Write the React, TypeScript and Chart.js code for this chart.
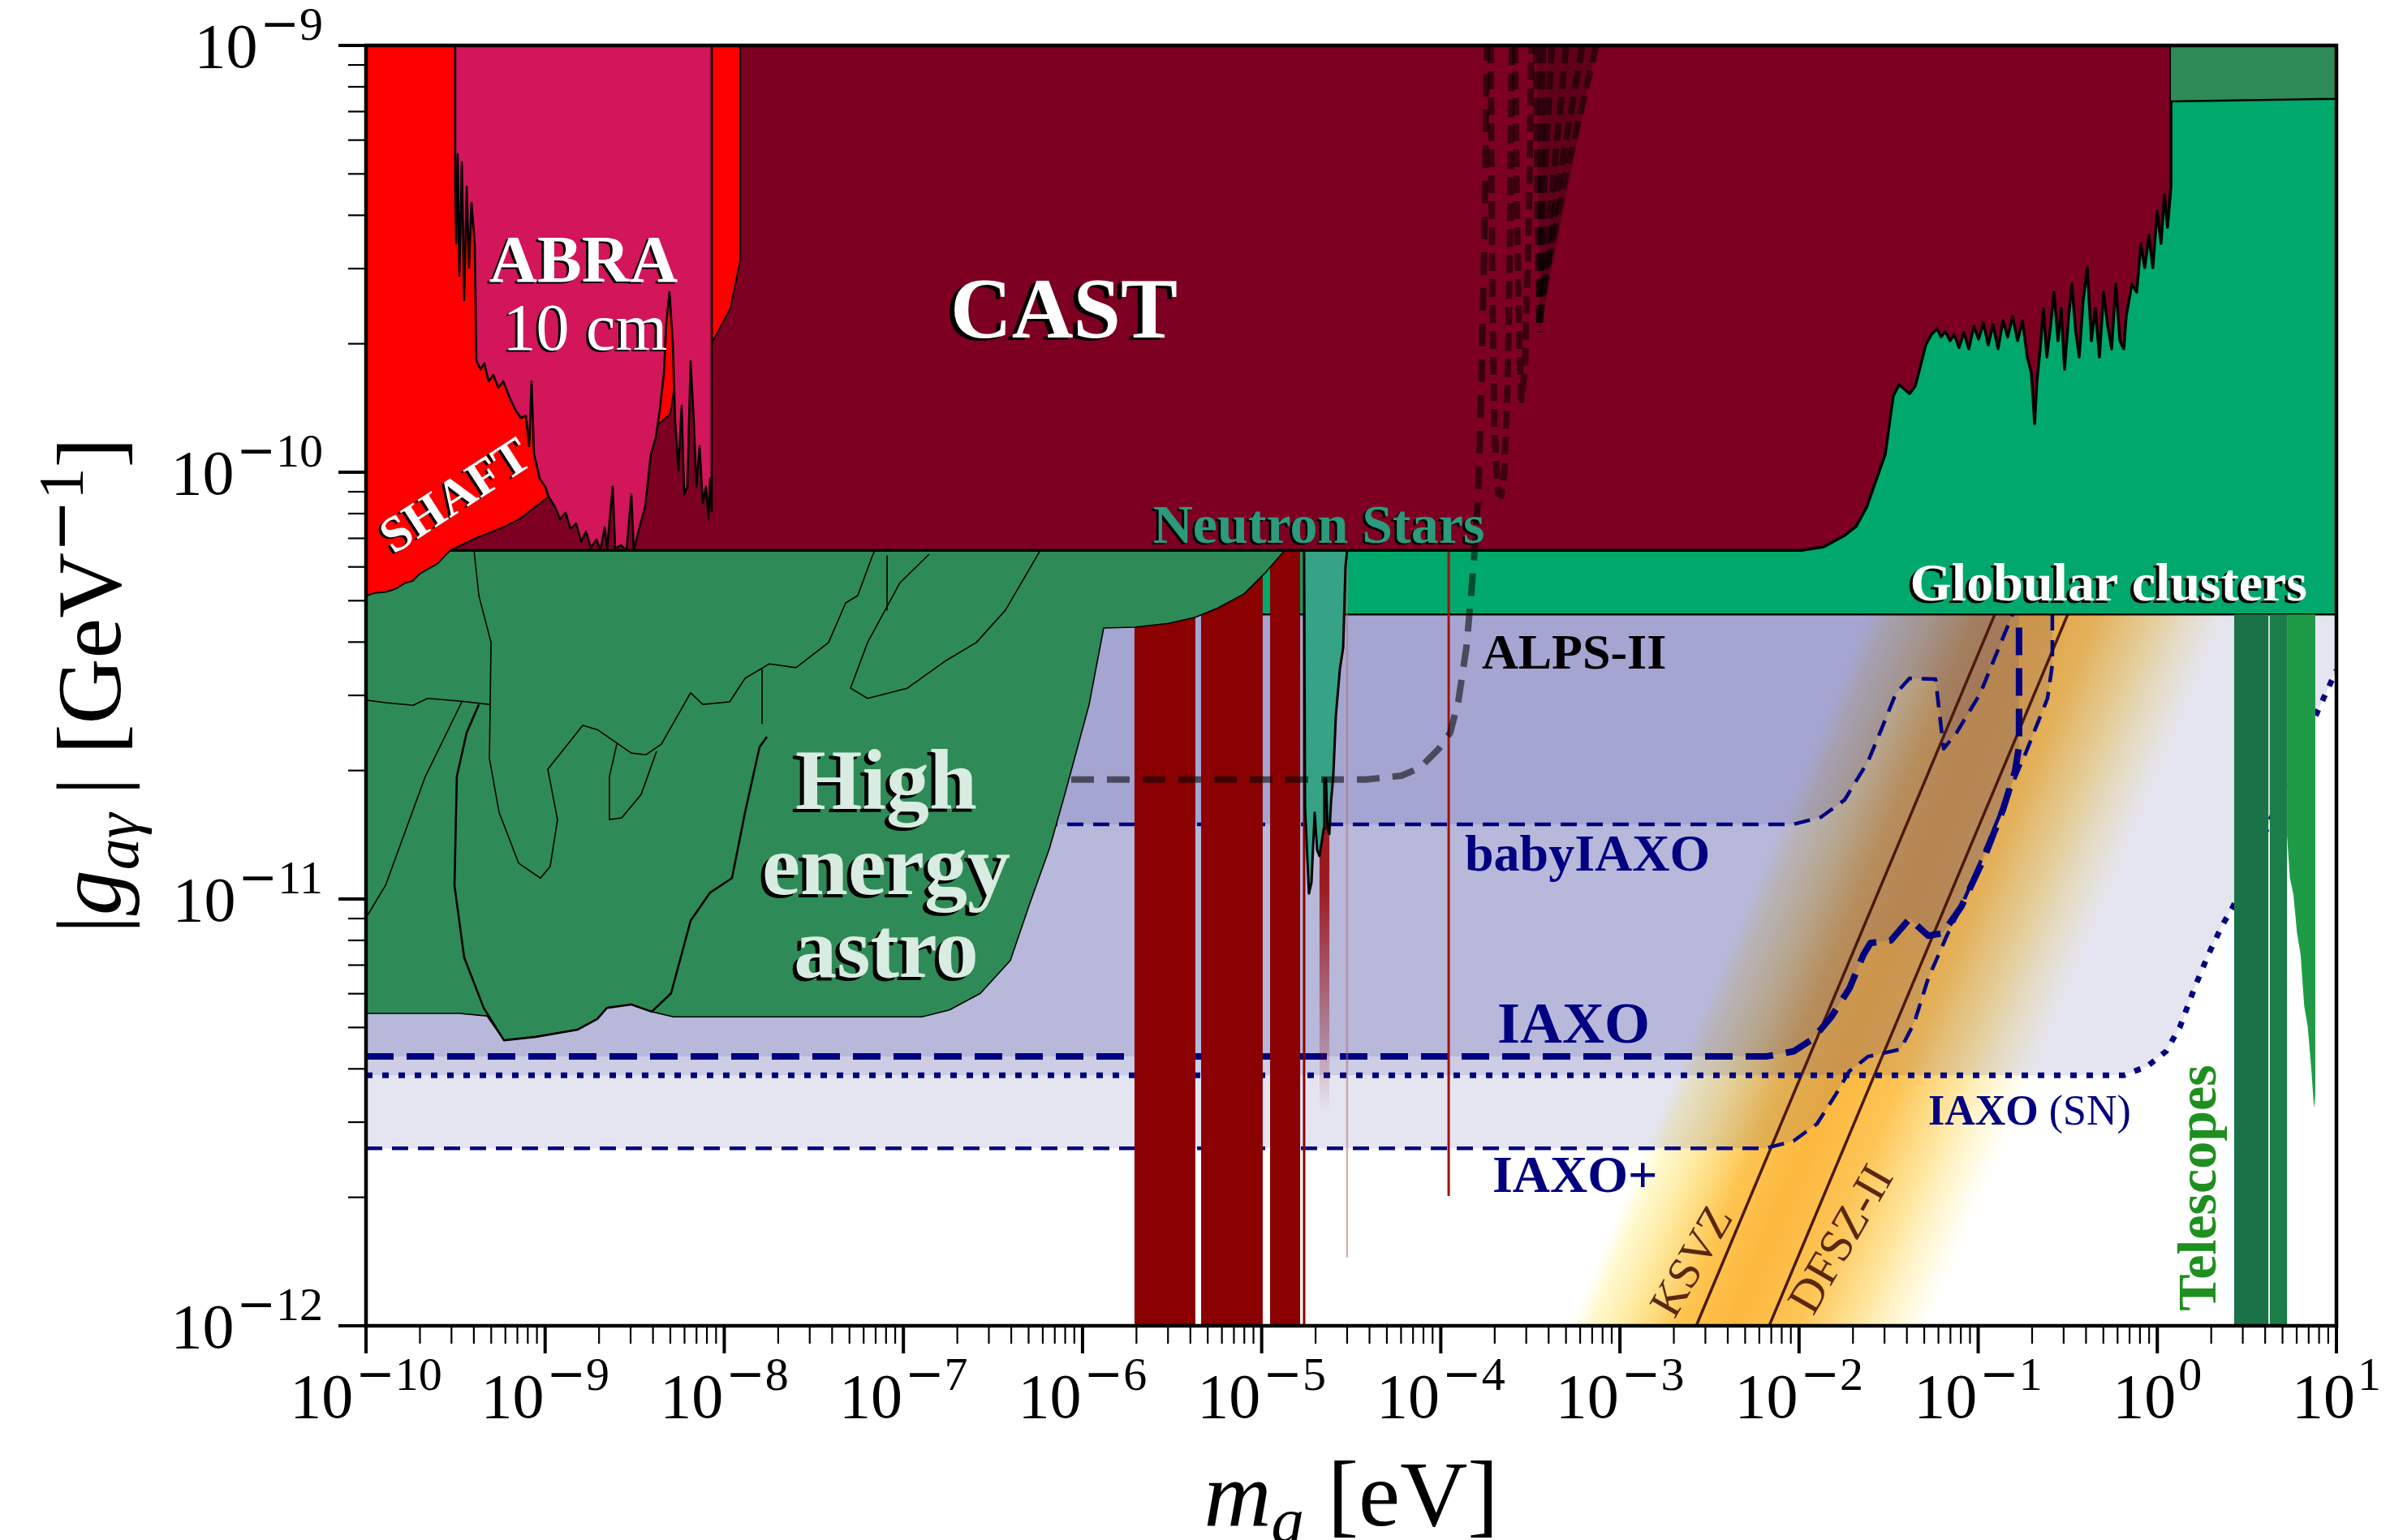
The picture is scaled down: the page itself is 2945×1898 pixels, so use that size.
import React, { useEffect, useRef } from 'react';
import { Chart, registerables } from 'chart.js';

Chart.register(...registerables);

const CANVAS_W = 2945;
const CANVAS_H = 1898;
const SERIF = "'Liberation Serif', 'Times New Roman', serif";
const MINUS_FONT = "'DejaVu Sans', sans-serif";

// axis limits
const X_MIN = 1e-10;
const X_MAX = 10;
const Y_MIN = 1e-12;
const Y_MAX = 1e-9;
const X_TICK_EXPONENTS = [-10, -9, -8, -7, -6, -5, -4, -3, -2, -1, 0, 1];
const Y_TICK_EXPONENTS = [-12, -11, -10, -9];

// ---- data: pairs of [log10(m_a / eV), log10(|g| / GeV^-1)] ----
const SHAFT = [[-10, -10.289], [-9.95, -10.283], [-9.9, -10.281], [-9.869, -10.278], [-9.83, -10.272], [-9.778, -10.259], [-9.74, -10.255], [-9.7, -10.238], [-9.642, -10.224], [-9.6, -10.214], [-9.56, -10.196], [-9.529, -10.183], [-9.384, -10.154], [-9.234, -10.129], [-9.144, -10.11], [-8.981, -10.057], [-8.781, -10.015], [-8.6, -9.958], [-8.419, -9.901], [-8.351, -9.882], [-8.301, -9.863], [-8.274, -9.787], [-8.238, -9.73], [-8.07, -9.698], [-7.966, -9.616], [-7.911, -9.504], [-7.911, -9], [-10, -9]];

const ABRA = [[-9.502, -9], [-9.502, -9.331], [-9.497, -9.464], [-9.488, -9.255], [-9.479, -9.54], [-9.465, -9.274], [-9.452, -9.597], [-9.438, -9.331], [-9.425, -9.521], [-9.411, -9.369], [-9.393, -9.464], [-9.384, -9.738], [-9.361, -9.759], [-9.339, -9.745], [-9.316, -9.787], [-9.289, -9.772], [-9.262, -9.802], [-9.234, -9.787], [-9.198, -9.825], [-9.166, -9.854], [-9.135, -9.873], [-9.108, -9.867], [-9.089, -9.939], [-9.076, -9.787], [-9.062, -9.958], [-9.03, -10.015], [-8.999, -10.034], [-8.981, -10.057], [-8.944, -10.082], [-8.917, -10.11], [-8.886, -10.095], [-8.858, -10.133], [-8.827, -10.12], [-8.799, -10.163], [-8.772, -10.139], [-8.745, -10.177], [-8.713, -10.158], [-8.691, -10.183], [-8.668, -10.129], [-8.654, -10.179], [-8.623, -10.034], [-8.609, -10.179], [-8.577, -10.171], [-8.546, -10.183], [-8.519, -10.053], [-8.505, -10.183], [-8.473, -10.129], [-8.442, -10.082], [-8.41, -9.958], [-8.383, -9.92], [-8.36, -9.854], [-8.337, -9.768], [-8.324, -9.654], [-8.306, -9.578], [-8.288, -9.692], [-8.274, -9.882], [-8.256, -9.996], [-8.238, -9.844], [-8.224, -10.053], [-8.206, -10.034], [-8.188, -9.74], [-8.17, -9.882], [-8.156, -10.034], [-8.138, -9.939], [-8.12, -10.072], [-8.102, -10.034], [-8.088, -10.11], [-8.079, -10.015], [-8.07, -10.091], [-8.07, -9]];

const CAST = [[-10, -10.183], [-1.986, -10.183], [-1.863, -10.175], [-1.746, -10.148], [-1.682, -10.127], [-1.623, -10.082], [-1.519, -9.958], [-1.474, -9.821], [-1.442, -9.795], [-1.41, -9.806], [-1.383, -9.816], [-1.351, -9.798], [-1.293, -9.702], [-1.261, -9.677], [-1.229, -9.664], [-1.207, -9.683], [-1.184, -9.67], [-1.157, -9.692], [-1.134, -9.677], [-1.107, -9.708], [-1.08, -9.673], [-1.052, -9.711], [-1.025, -9.658], [-0.998, -9.688], [-0.971, -9.65], [-0.944, -9.702], [-0.917, -9.654], [-0.889, -9.711], [-0.862, -9.645], [-0.835, -9.683], [-0.808, -9.635], [-0.78, -9.692], [-0.753, -9.645], [-0.726, -9.73], [-0.703, -9.768], [-0.685, -9.886], [-0.672, -9.787], [-0.654, -9.711], [-0.636, -9.616], [-0.617, -9.73], [-0.595, -9.654], [-0.577, -9.578], [-0.554, -9.692], [-0.536, -9.616], [-0.518, -9.759], [-0.495, -9.635], [-0.477, -9.559], [-0.455, -9.673], [-0.436, -9.73], [-0.414, -9.597], [-0.391, -9.521], [-0.368, -9.692], [-0.346, -9.616], [-0.323, -9.73], [-0.3, -9.578], [-0.278, -9.654], [-0.255, -9.711], [-0.232, -9.559], [-0.209, -9.692], [-0.187, -9.711], [-0.174, -9.635], [-0.142, -9.559], [-0.115, -9.578], [-0.092, -9.464], [-0.07, -9.521], [-0.047, -9.445], [-0.025, -9.521], [-0.001, -9.388], [0.021, -9.464], [0.039, -9.35], [0.057, -9.426], [0.076, -9.331], [0.076, -9], [-10, -9]];

const GLOBULAR = [[-10, -10.333], [1, -10.333], [1, -9], [-10, -9]];
const TOP_RIGHT = [[0.076, -9.131], [1, -9.125], [1, -9], [0.076, -9]];

const HALOSCOPE_BARS = [[-5.71, -5.37], [-5.338, -4.994], [-4.953, -4.785]];
const HALO_LINE_A = [[-4.763, -12], [-4.763, -10.18]];
const HALO_SPIKE = [[-4.677, -11.5], [-4.677, -10.18], [-4.622, -10.18], [-4.622, -11.5]];
const HALO_LINE_B = [[-4.523, -11.84], [-4.523, -10.18]];
const HALO_LINE_C = [[-3.956, -11.696], [-3.956, -10.183]];

const NEUTRON_STARS = [[-4.763, -10.184], [-4.758, -10.785], [-4.736, -10.987], [-4.722, -10.962], [-4.704, -10.798], [-4.69, -10.886], [-4.677, -10.899], [-4.654, -10.836], [-4.65, -10.717], [-4.641, -10.717], [-4.632, -10.836], [-4.622, -10.848], [-4.613, -10.774], [-4.6, -10.711], [-4.586, -10.572], [-4.563, -10.46], [-4.545, -10.411], [-4.532, -10.222], [-4.523, -10.184], [-4.523, -10.0], [-4.763, -10.0]];

const ASTRO = [[-10, -10.183], [-4.871, -10.183], [-4.976, -10.234], [-5.098, -10.285], [-5.248, -10.319], [-5.37, -10.34], [-5.519, -10.354], [-5.71, -10.363], [-5.882, -10.365], [-5.963, -10.544], [-6.045, -10.671], [-6.099, -10.755], [-6.185, -10.882], [-6.294, -11.01], [-6.403, -11.144], [-6.57, -11.221], [-6.743, -11.26], [-6.897, -11.276], [-8.283, -11.276], [-8.405, -11.264], [-8.519, -11.247], [-8.655, -11.255], [-8.709, -11.281], [-8.818, -11.306], [-9.053, -11.323], [-9.23, -11.331], [-9.325, -11.274], [-9.479, -11.268], [-10, -11.268]];

const ASTRO_EDGES = [
  [[-10, -10.534], [-9.891, -10.54], [-9.737, -10.546], [-9.656, -10.53], [-9.479, -10.536], [-9.311, -10.544]],
  [[-9.397, -10.183], [-9.37, -10.289], [-9.302, -10.399], [-9.311, -10.671], [-9.257, -10.797], [-9.148, -10.916], [-9.026, -10.951], [-8.972, -10.924], [-8.931, -10.814], [-8.985, -10.696], [-8.79, -10.593], [-8.709, -10.603], [-8.519, -10.658], [-8.437, -10.662], [-8.351, -10.637], [-8.188, -10.517], [-8.12, -10.544], [-7.97, -10.538], [-7.884, -10.483], [-7.748, -10.449], [-7.599, -10.458], [-7.418, -10.399], [-7.322, -10.306], [-7.255, -10.289], [-7.173, -10.196], [-7.159, -10.183]],
  [[-10, -11.044], [-9.891, -10.968], [-9.669, -10.713], [-9.465, -10.538]],
  [[-6.856, -10.192], [-7.019, -10.259], [-7.2, -10.399], [-7.295, -10.506], [-7.2, -10.53], [-6.978, -10.506], [-6.761, -10.441], [-6.593, -10.399], [-6.43, -10.323], [-6.24, -10.186]],
  [[-8.6, -10.637], [-8.641, -10.713], [-8.641, -10.814], [-8.573, -10.81], [-8.464, -10.755], [-8.378, -10.654]],
  [[-7.789, -10.462], [-7.789, -10.589]],
  [[-7.091, -10.196], [-7.091, -10.323]],
];
const ASTRO_LOBE = [[-9.37, -10.544], [-9.438, -10.61], [-9.493, -10.713], [-9.506, -10.968], [-9.452, -11.137], [-9.343, -11.255], [-9.23, -11.331], [-9.053, -11.323], [-8.818, -11.306], [-8.709, -11.281], [-8.655, -11.255], [-8.519, -11.247], [-8.405, -11.264], [-8.297, -11.221], [-8.188, -11.051], [-8.079, -10.985], [-7.957, -10.951], [-7.884, -10.797], [-7.803, -10.644], [-7.762, -10.62]];

const TEL_1 = [[0.429, -12], [0.429, -10.333], [0.62, -10.333], [0.62, -12]];
const TEL_2 = [[0.628, -12], [0.628, -10.333], [0.724, -10.333], [0.724, -12]];
const TEL_3 = [[0.724, -10.333], [0.724, -10.85], [0.74, -10.95], [0.76, -10.99], [0.78, -11.08], [0.8, -11.13], [0.82, -11.25], [0.84, -11.3], [0.86, -11.4], [0.875, -11.49], [0.882, -11.46], [0.882, -10.333]];

const BABY_IAXO = [[-10, -10.825], [-2.031, -10.825], [-1.877, -10.808], [-1.746, -10.768], [-1.614, -10.677], [-1.537, -10.599], [-1.46, -10.519], [-1.383, -10.483], [-1.238, -10.485], [-1.193, -10.648], [-1.12, -10.61], [-0.989, -10.519], [-0.889, -10.416], [-0.808, -10.333], [-0.74, -10.224], [-0.7, -9]];
const IAXO = [[-10, -11.369], [-2.185, -11.369], [-2.031, -11.357], [-1.927, -11.329], [-1.823, -11.278], [-1.718, -11.209], [-1.641, -11.131], [-1.601, -11.103], [-1.487, -11.097], [-1.383, -11.046], [-1.279, -11.086], [-1.197, -11.08], [-1.093, -11.017], [-0.966, -10.903], [-0.862, -10.791], [-0.794, -10.7], [-0.772, -10.643], [-0.772, -9]];
const IAXO_PLUS = [[-10, -11.584], [-2.185, -11.584], [-2.031, -11.567], [-1.9, -11.527], [-1.795, -11.458], [-1.718, -11.403], [-1.614, -11.369], [-1.433, -11.352], [-1.356, -11.289], [-1.279, -11.186], [-1.175, -11.086], [-1.093, -11.017], [-0.989, -10.914], [-0.835, -10.757], [-0.731, -10.654], [-0.613, -10.53], [-0.586, -10.451], [-0.586, -9]];
const IAXO_SN = [[-10, -11.413], [-0.187, -11.413], [-0.056, -11.392], [0.049, -11.357], [0.126, -11.3], [0.207, -11.209], [0.284, -11.131], [0.361, -11.063], [0.424, -11.017], [0.896, -10.559], [1, -10.464]];

const ALPS_II = [[-6.063, -10.72], [-4.418, -10.72], [-4.219, -10.711], [-4.115, -10.692], [-4.011, -10.648], [-3.947, -10.61], [-3.902, -10.536], [-3.857, -10.411], [-3.83, -10.285], [-3.807, -10.16], [-3.789, -10.034], [-3.775, -9.818], [-3.757, -9.464], [-3.742, -9.0]];
const HALO_DASHED = [
  [[-3.721, -9], [-3.712, -9.6], [-3.7, -9.9], [-3.68, -10.05], [-3.662, -10.055], [-3.645, -10.0], [-3.628, -9.8], [-3.615, -9.5], [-3.603, -9]],
  [[-3.585, -9], [-3.575, -9.4], [-3.562, -9.7], [-3.549, -9.831], [-3.53, -9.75], [-3.51, -9.45], [-3.494, -9]],
  [[-3.467, -9], [-3.46, -9.4], [-3.449, -9.673]],
  [[-3.3, -9], [-3.38, -9.35], [-3.445, -9.65]],
  [[-3.132, -9], [-3.3, -9.3], [-3.42, -9.55]],
  [[-3.38, -9], [-3.42, -9.3], [-3.448, -9.6]],
  [[-3.21, -9], [-3.34, -9.32], [-3.43, -9.6]],
  [[-3.43, -9], [-3.44, -9.35], [-3.449, -9.66]],
];
const HALO_WEDGE = [[-3.467, -9], [-3.449, -9.673], [-3.132, -9]];

const KSVZ = [[-2.6, -12.026], [-0.6, -10.026]];
const DFSZ_II = [[-2.2, -12.033], [-0.2, -10.033]];
const QCD_BAND = [[-3.281, -12], [-0.281, -9], [1, -9], [1, -9.739], [-1.261, -12]];
const QCD_BAND_STOPS = [
  [0.0, 'rgba(255,250,205,0)'],
  [0.05, 'rgba(255,247,190,0.7)'],
  [0.17, 'rgba(254,228,140,0.9)'],
  [0.3, 'rgba(253,196,80,1)'],
  [0.45, 'rgba(252,184,62,1)'],
  [0.63, 'rgba(253,196,85,1)'],
  [0.8, 'rgba(254,228,150,0.9)'],
  [0.92, 'rgba(255,245,200,0.6)'],
  [1.0, 'rgba(255,250,220,0)'],
];

// text labels anchored in data coordinates
const LABELS = [
  { text: 'ABRA', lm: -8.786, lg: -9.553, font: `bold 82px ${SERIF}`, color: '#ffffff', align: 'center', shadow: [-3, 2] },
  { text: '10 cm', lm: -8.777, lg: -9.713, font: `82px ${SERIF}`, color: '#ffffff', align: 'center', shadow: [-3, 2] },
  { text: 'SHAFT', lm: -9.493, lg: -10.061, font: `bold 62px ${SERIF}`, color: '#ffffff', align: 'center', baseline: 'middle', rot: -33, shadow: [-3, 2] },
  { text: 'CAST', lm: -6.104, lg: -9.684, font: `bold 105px ${SERIF}`, color: '#ffffff', align: 'center', shadow: [-6, 3] },
  { text: 'Neutron Stars', lm: -4.681, lg: -10.165, font: `bold 68px ${SERIF}`, color: '#2b9b7c', align: 'center', shadow: [-3, 2] },
  { text: 'Globular clusters', lm: 0.837, lg: -10.3, font: `bold 66px ${SERIF}`, color: '#ffffff', align: 'right', shadow: [-4, 3] },
  { text: 'ALPS-II', lm: -3.771, lg: -10.46, font: `bold 62px ${SERIF}`, color: '#000000', align: 'left' },
  { text: 'babyIAXO', lm: -3.866, lg: -10.933, font: `bold 64px ${SERIF}`, color: '#000080', align: 'left' },
  { text: 'IAXO', lm: -3.685, lg: -11.337, font: `bold 72px ${SERIF}`, color: '#000080', align: 'left' },
  { text: 'IAXO+', lm: -3.712, lg: -11.686, font: `bold 64px ${SERIF}`, color: '#000080', align: 'left' },
  { text: 'High', lm: -7.096, lg: -10.789, font: `bold 106px ${SERIF}`, color: '#d8ece1', align: 'center', shadow: [-5, 4] },
  { text: 'energy', lm: -7.096, lg: -10.989, font: `bold 106px ${SERIF}`, color: '#d8ece1', align: 'center', shadow: [-5, 4] },
  { text: 'astro', lm: -7.096, lg: -11.183, font: `bold 106px ${SERIF}`, color: '#d8ece1', align: 'center', shadow: [-5, 4] },
  { text: 'KSVZ', lm: -2.588, lg: -11.852, font: `56px ${SERIF}`, color: '#5a2810', align: 'center', baseline: 'middle', rot: -60 },
  { text: 'DFSZ-II', lm: -1.755, lg: -11.8, font: `58px ${SERIF}`, color: '#5a2810', align: 'center', baseline: 'middle', rot: -60 },
  { text: 'Telescopes', lm: 0.325, lg: -11.677, font: `bold 68px ${SERIF}`, color: '#1f8f1f', align: 'center', rot: -90 },
];
const SN_LABEL = { lm: -1.279, lg: -11.529, size: 52, color: '#000080' };

// ---- helpers ----
const toPts = (arr: number[][]) => arr.map(([lm, lg]) => ({ x: Math.pow(10, lm), y: Math.pow(10, lg) }));

function area(arr: number[][], fill: any, border = 'rgba(0,0,0,0)', bw = 0, extra: any = {}) {
  return {
    data: toPts(arr), showLine: true, fill: 'shape', backgroundColor: fill,
    borderColor: border, borderWidth: bw, pointRadius: 0, pointHoverRadius: 0,
    clip: 0, borderJoinStyle: 'round', ...extra,
  };
}
function curve(arr: number[][], color: string, bw: number, dash: number[] = [], extra: any = {}) {
  return {
    data: toPts(arr), showLine: true, fill: false, backgroundColor: 'rgba(0,0,0,0)',
    borderColor: color, borderWidth: bw, borderDash: dash, pointRadius: 0, pointHoverRadius: 0,
    clip: 0, borderJoinStyle: 'round', ...extra,
  };
}
const rectOf = (m0: number, m1: number, g0: number, g1: number) => [[m0, g0], [m0, g1], [m1, g1], [m1, g0]];
const closeTop = (arr: number[][]) => [...arr, [arr[arr.length - 1][0], -9], [-10, -9]];

const bandGradient = (c: any) => {
  const chart = c.chart;
  const xs = chart.scales && chart.scales.x;
  const ys = chart.scales && chart.scales.y;
  if (!xs || !ys || !chart.chartArea) return 'rgba(253,190,70,0.8)';
  const P = (p: number[]) => [xs.getPixelForValue(Math.pow(10, p[0])), ys.getPixelForValue(Math.pow(10, p[1]))];
  const [ax, ay] = P(QCD_BAND[0]);
  const [bx, by] = P(QCD_BAND[1]);
  const [cx, cy] = P(QCD_BAND[4]);
  let dx = bx - ax, dy = by - ay;
  const L = Math.hypot(dx, dy); dx /= L; dy /= L;
  const nx = -dy, ny = dx;
  const w = (cx - ax) * nx + (cy - ay) * ny;
  const g = chart.ctx.createLinearGradient(ax, ay, ax + nx * w, ay + ny * w);
  QCD_BAND_STOPS.forEach(([o, col]: any) => g.addColorStop(o, col));
  return g;
};

const spikeGradient = (c: any) => {
  const chart = c.chart;
  const ys = chart.scales && chart.scales.y;
  if (!ys || !chart.chartArea) return 'rgba(150,0,0,0.8)';
  const top = ys.getPixelForValue(Math.pow(10, HALO_SPIKE[1][1]));
  const bot = ys.getPixelForValue(Math.pow(10, HALO_SPIKE[0][1]));
  const g = chart.ctx.createLinearGradient(0, top, 0, bot);
  g.addColorStop(0, 'rgba(150,0,0,0.95)');
  g.addColorStop(0.6, 'rgba(150,0,0,0.85)');
  g.addColorStop(1, 'rgba(150,0,0,0)');
  return g;
};

function buildDatasets() {
  const NAVY_FILL = 'rgba(0,0,128,0.1)';
  const layers: any[] = [
    area(QCD_BAND, bandGradient),
    area(closeTop(IAXO_PLUS), NAVY_FILL),
    area([...IAXO_SN, [1, -9], [-10, -9]], NAVY_FILL),
    area(closeTop(IAXO), NAVY_FILL),
    area(closeTop(BABY_IAXO), NAVY_FILL),
    curve(KSVZ, '#4a1a10', 3.5),
    curve(DFSZ_II, '#4a1a10', 3.5),
    curve(IAXO_PLUS, '#000080', 4.5, [20, 12]),
    curve(IAXO_SN, '#000080', 7, [8, 12], { borderJoinStyle: 'miter' }),
    curve(IAXO, '#000080', 8, [34, 16]),
    curve(BABY_IAXO, '#000080', 4.5, [20, 12]),
    area(GLOBULAR, '#00a86b', '#000000', 2.5),
    area(TEL_1, '#1a7348'),
    area(TEL_2, '#1a7d4a'),
    area(TEL_3, '#1f9b47'),
    ...HALOSCOPE_BARS.map(([a, b]) => area(rectOf(a, b, -12.05, -9), '#8b0000')),
    curve(HALO_LINE_A, '#8b0000', 3),
    area(HALO_SPIKE, spikeGradient),
    curve(HALO_LINE_B, 'rgba(190,110,110,0.55)', 2.5),
    curve(HALO_LINE_C, '#a01010', 3),
    area(NEUTRON_STARS, '#36a386', '#000000', 3),
    area(ASTRO, '#2e8b57', '#000000', 1.6),
    ...ASTRO_EDGES.map((e) => curve(e, '#000000', 1.6)),
    curve(ASTRO_LOBE, '#000000', 2.6),
    area(CAST, '#7d0022', '#000000', 3.5),
    area(TOP_RIGHT, '#2e8b57', '#000000', 2.5),
    curve(ALPS_II, 'rgba(0,0,0,0.55)', 8, [28, 16]),
    area(HALO_WEDGE, 'rgba(0,0,0,0.22)'),
    ...HALO_DASHED.map((e) => curve(e, 'rgba(0,0,0,0.5)', 8, [22, 10])),
    area(SHAFT, '#ff0000', '#000000', 2),
    area(ABRA, '#d3155a', '#000000', 2.6),
  ];
  const n = layers.length;
  return layers.map((d, i) => ({ ...d, order: n - i }));
}

// ---- plugins ----
const bgPlugin = {
  id: 'whiteBackground',
  beforeDraw(chart: any) {
    const ctx = chart.ctx;
    ctx.save();
    ctx.fillStyle = '#ffffff';
    ctx.fillRect(0, 0, chart.width, chart.height);
    ctx.restore();
  },
};

const labelPlugin = {
  id: 'regionLabels',
  afterDatasetsDraw(chart: any) {
    const { ctx } = chart;
    const xs = chart.scales.x, ys = chart.scales.y;
    for (const L of LABELS as any[]) {
      const px = xs.getPixelForValue(Math.pow(10, L.lm));
      const py = ys.getPixelForValue(Math.pow(10, L.lg));
      ctx.save();
      ctx.translate(px, py);
      if (L.rot) ctx.rotate((L.rot * Math.PI) / 180);
      ctx.font = L.font;
      ctx.textAlign = L.align || 'left';
      ctx.textBaseline = L.baseline || 'alphabetic';
      if (L.shadow) {
        ctx.shadowColor = '#000000';
        ctx.shadowOffsetX = L.shadow[0];
        ctx.shadowOffsetY = L.shadow[1];
        ctx.shadowBlur = 0;
      }
      ctx.fillStyle = L.color;
      ctx.fillText(L.text, 0, 0);
      ctx.restore();
    }
    // IAXO (SN)
    const sx = xs.getPixelForValue(Math.pow(10, SN_LABEL.lm));
    const sy = ys.getPixelForValue(Math.pow(10, SN_LABEL.lg));
    ctx.save();
    ctx.fillStyle = SN_LABEL.color;
    ctx.textAlign = 'left';
    ctx.textBaseline = 'alphabetic';
    ctx.font = `bold ${SN_LABEL.size}px ${SERIF}`;
    ctx.fillText('IAXO', sx, sy);
    const w1 = ctx.measureText('IAXO ').width;
    ctx.font = `${SN_LABEL.size}px ${SERIF}`;
    ctx.fillText('(SN)', sx + w1, sy);
    ctx.restore();
  },
};

const TICK_FONT = 78;
const EXP_FONT = 58;
const EXP_RAISE = 34;

function drawPow(ctx: any, e: number, x: number, y: number, align: string) {
  const base = '10';
  const digits = String(Math.abs(e));
  const neg = e < 0;
  ctx.font = `${TICK_FONT}px ${SERIF}`;
  const wb = ctx.measureText(base).width;
  ctx.font = `${EXP_FONT}px ${MINUS_FONT}`;
  const wm = neg ? ctx.measureText('\u2212').width : 0;
  ctx.font = `${EXP_FONT}px ${SERIF}`;
  const wd = ctx.measureText(digits).width;
  const gap = 3;
  const total = wb + gap + wm + wd;
  let sx = align === 'center' ? x - total / 2 : x - total;
  ctx.textAlign = 'left';
  ctx.textBaseline = 'alphabetic';
  ctx.font = `${TICK_FONT}px ${SERIF}`;
  ctx.fillText(base, sx, y);
  sx += wb + gap;
  if (neg) {
    ctx.font = `${EXP_FONT}px ${MINUS_FONT}`;
    ctx.fillText('\u2212', sx, y - EXP_RAISE);
    sx += wm;
  }
  ctx.font = `${EXP_FONT}px ${SERIF}`;
  ctx.fillText(digits, sx, y - EXP_RAISE);
}

function drawRich(ctx: any, segs: any[], x: number, y: number, rot: number) {
  ctx.save();
  ctx.translate(x, y);
  ctx.rotate(rot);
  let total = 0;
  for (const s of segs) { ctx.font = s.f; total += ctx.measureText(s.t).width; }
  let cx = -total / 2;
  ctx.textAlign = 'left';
  ctx.textBaseline = 'alphabetic';
  ctx.fillStyle = '#000';
  for (const s of segs) {
    ctx.font = s.f;
    ctx.fillText(s.t, cx, s.dy || 0);
    cx += ctx.measureText(s.t).width;
  }
  ctx.restore();
}

const axesPlugin = {
  id: 'axesFrame',
  afterDraw(chart: any) {
    const { ctx, chartArea: a } = chart;
    const xs = chart.scales.x, ys = chart.scales.y;
    ctx.save();
    ctx.strokeStyle = '#000';
    ctx.lineCap = 'butt';
    const xe0 = X_TICK_EXPONENTS[0], xe1 = X_TICK_EXPONENTS[X_TICK_EXPONENTS.length - 1];
    for (let e = xe0; e <= xe1; e++) {
      for (let k = 1; k <= 9; k++) {
        const v = k * Math.pow(10, e);
        if (v > X_MAX * 1.0001) break;
        const p = xs.getPixelForValue(v);
        const major = k === 1;
        ctx.lineWidth = major ? 4 : 2.2;
        ctx.beginPath();
        ctx.moveTo(p, a.bottom);
        ctx.lineTo(p, a.bottom + (major ? 34 : 22));
        ctx.stroke();
      }
    }
    const ye0 = Y_TICK_EXPONENTS[0], ye1 = Y_TICK_EXPONENTS[Y_TICK_EXPONENTS.length - 1];
    for (let e = ye0; e <= ye1; e++) {
      for (let k = 1; k <= 9; k++) {
        const v = k * Math.pow(10, e);
        if (v > Y_MAX * 1.0001) break;
        const p = ys.getPixelForValue(v);
        const major = k === 1;
        ctx.lineWidth = major ? 4 : 2.2;
        ctx.beginPath();
        ctx.moveTo(a.left, p);
        ctx.lineTo(a.left - (major ? 34 : 22), p);
        ctx.stroke();
      }
    }
    ctx.lineWidth = 4.5;
    ctx.strokeRect(a.left, a.top, a.right - a.left, a.bottom - a.top);

    ctx.fillStyle = '#000';
    for (const e of X_TICK_EXPONENTS) {
      drawPow(ctx, e, xs.getPixelForValue(Math.pow(10, e)), a.bottom + 113, 'center');
    }
    for (const e of Y_TICK_EXPONENTS) {
      drawPow(ctx, e, a.left - 53, ys.getPixelForValue(Math.pow(10, e)) + 27, 'right');
    }

    const S = 112;
    drawRich(ctx, [
      { t: '|', f: `${S}px ${SERIF}` },
      { t: 'g', f: `italic ${S}px ${SERIF}` },
      { t: 'a\u03b3', f: `italic ${Math.round(S * 0.7)}px ${SERIF}`, dy: S * 0.2 },
      { t: '\u2009|', f: `${S}px ${SERIF}` },
      { t: ' [GeV', f: `${S}px ${SERIF}` },
      { t: '\u2212', f: `${Math.round(S * 0.7)}px ${MINUS_FONT}`, dy: -S * 0.42 },
      { t: '1', f: `${Math.round(S * 0.7)}px ${SERIF}`, dy: -S * 0.42 },
      { t: ']', f: `${S}px ${SERIF}` },
    ], 148, (a.top + a.bottom) / 2, -Math.PI / 2);

    const SX = 115;
    drawRich(ctx, [
      { t: 'm', f: `italic ${SX}px ${SERIF}` },
      { t: 'a', f: `italic ${Math.round(SX * 0.7)}px ${SERIF}`, dy: SX * 0.18 },
      { t: ' [eV]', f: `${SX}px ${SERIF}` },
    ], (a.left + a.right) / 2, 1880, 0);
    ctx.restore();
  },
};

export default function App() {
  const ref = useRef<HTMLCanvasElement>(null);
  useEffect(() => {
    const canvas = ref.current;
    if (!canvas) return;
    const chart = new Chart(canvas, {
      type: 'scatter',
      data: { datasets: buildDatasets() },
      options: {
        responsive: false,
        maintainAspectRatio: false,
        animation: false,
        devicePixelRatio: 1,
        events: [],
        layout: { padding: { left: 451, right: CANVAS_W - 2879, top: 56, bottom: CANVAS_H - 1634 } },
        scales: {
          x: { type: 'logarithmic', min: X_MIN, max: X_MAX, display: false },
          y: { type: 'logarithmic', min: Y_MIN, max: Y_MAX, display: false },
        },
        plugins: { legend: { display: false }, tooltip: { enabled: false } },
      } as any,
      plugins: [bgPlugin, labelPlugin, axesPlugin],
    } as any);
    return () => chart.destroy();
  }, []);
  return (
    <div style={{ position: 'fixed', left: 0, top: 0, width: CANVAS_W, height: CANVAS_H, background: '#fff' }}>
      <canvas ref={ref} width={CANVAS_W} height={CANVAS_H} style={{ width: CANVAS_W, height: CANVAS_H, display: 'block' }} />
    </div>
  );
}
